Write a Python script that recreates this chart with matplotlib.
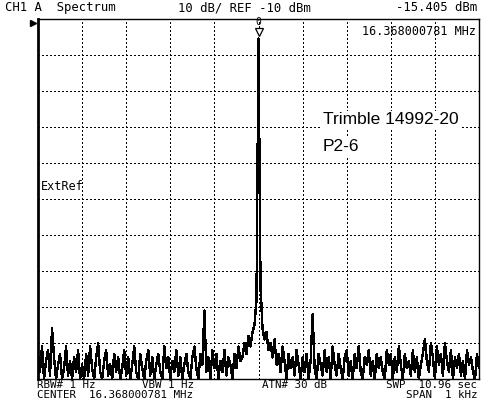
import matplotlib
matplotlib.use('Agg')
import matplotlib.pyplot as plt
import matplotlib.transforms as mtrans
import numpy as np

# Dados - traco do analisador (dBm), span 1 kHz em torno de 16.368000781 MHz
ref_level = -10
db_per_div = 10
span_hz = 1000
center_label = '16.368000781 MHz'
peak_dbm = -15.405

trace = [
    -103, -108, -101, -110, -105, -102, -109, -96, -104, -110, -106, -103, -110, -107, -101, -109, -105, -110, -104, -108, -102, -110,
    -106, -110, -103, -109, -101, -107, -110, -104, -100, -108, -110, -105, -102, -109, -106, -110, -103, -108, -104, -110, -107, -102,
    -109, -104, -110, -106, -101, -108, -110, -103, -107, -110, -105, -102, -109, -104, -110, -106, -103, -108, -110, -101, -107, -104,
    -110, -105, -108, -102, -109, -104, -110, -106, -103, -108, -110, -104, -101, -107, -110, -103, -106, -91, -108, -104, -110, -102,
    -107, -103, -110, -105, -108, -102, -109, -104, -106, -110, -103, -107, -101, -105, -104, -100, -103, -98, -101, -97, -95, -88,
    peak_dbm,
    -84, -96, -99, -97, -102, -100, -104, -99, -106, -103, -108, -101, -105, -110, -103, -107, -104, -109, -102, -106, -110, -104,
    -108, -103, -110, -105, -92, -107, -110, -103, -106, -109, -102, -108, -104, -110, -101, -106, -109, -103, -107, -110, -104, -102,
    -109, -105, -110, -103, -107, -101, -108, -110, -104, -106, -102, -109, -105, -110, -103, -107, -104, -108, -110, -102, -106, -103,
    -110, -104, -108, -101, -106, -110, -103, -107, -105, -109, -102, -108, -104, -110, -106, -103, -99, -105, -108, -100, -104, -110,
    -101, -106, -103, -109, -100, -105, -108, -102, -110, -104, -107, -103, -109, -105, -110, -102, -106, -104, -108, -110, -103, -107,
]
freq = np.linspace(-span_hz / 2, span_hz / 2, len(trace))

mono = 'DejaVu Sans Mono'

fig = plt.figure(figsize=(4.96, 4.11), dpi=100)
ax = fig.add_axes([38 / 496, 32 / 411, 441 / 496, 360 / 411])

bottom_level = ref_level - 10 * db_per_div
ax.plot(freq, np.clip(trace, bottom_level, ref_level), color='black', lw=1.0,
        antialiased=False, zorder=3)
ax.set_xlim(-span_hz / 2, span_hz / 2)
ax.set_ylim(bottom_level, ref_level)

# grade pontilhada 10x10
ax.set_xticks(np.linspace(-span_hz / 2, span_hz / 2, 11))
ax.set_yticks(np.arange(bottom_level, ref_level + 1, db_per_div))
ax.grid(True, color='black', linestyle=(0, (1, 2.5)), linewidth=0.75, antialiased=False)
ax.tick_params(length=0, labelbottom=False, labelleft=False)
for s in ['top', 'right', 'bottom']:
    ax.spines[s].set_linewidth(1.0)
ax.spines['left'].set_linewidth(2.0)

# marcador no pico
peak_f = freq[int(np.argmax(trace))]
tr_tri = mtrans.offset_copy(ax.transData, fig=fig, x=0, y=5, units='points')
ax.plot([peak_f], [peak_dbm], marker='v', ms=6, mfc='white', mec='black', mew=0.9,
        transform=tr_tri, clip_on=False, zorder=4)
tr_num = mtrans.offset_copy(ax.transData, fig=fig, x=0, y=12, units='points')
ax.text(peak_f, peak_dbm, '0', transform=tr_num, ha='center', va='center',
        fontsize=7, family=mono)

# indicador do nivel de referencia
ax.plot([-0.012], [0.99], marker='>', ms=5, color='black', transform=ax.transAxes, clip_on=False)

# textos dentro do grafico
ax.text(0.993, 0.956, center_label, transform=ax.transAxes, ha='right', va='baseline',
        fontsize=8.5, family=mono)
ax.text(0.007, 0.525, 'ExtRef', transform=ax.transAxes, ha='left', va='baseline',
        fontsize=8.5, family=mono)
box = dict(facecolor='white', edgecolor='none', pad=1)
ax.text(0.646, 0.708, 'Trimble 14992-20', transform=ax.transAxes, ha='left', va='baseline',
        fontsize=12.5, family='Liberation Sans', bbox=box, zorder=5)
ax.text(0.646, 0.633, 'P2-6', transform=ax.transAxes, ha='left', va='baseline',
        fontsize=12.5, family='Liberation Sans', bbox=box, zorder=5)

# cabecalho
fig.text(0.010, 0.973, 'CH1 A  Spectrum', ha='left', va='baseline', fontsize=8.8, family=mono)
fig.text(0.359, 0.973, '10 dB/ REF -10 dBm', ha='left', va='baseline', fontsize=8.8, family=mono)
fig.text(0.962, 0.973, '%.3f dBm' % peak_dbm, ha='right', va='baseline', fontsize=8.8, family=mono)

# rodape
fs = 7.8
r1, r2 = 0.057, 0.031
fig.text(0.075, r1, 'RBW# 1 Hz', ha='left', va='baseline', fontsize=fs, family=mono)
fig.text(0.286, r1, 'VBW 1 Hz', ha='left', va='baseline', fontsize=fs, family=mono)
fig.text(0.528, r1, 'ATN# 30 dB', ha='left', va='baseline', fontsize=fs, family=mono)
fig.text(0.962, r1, 'SWP  10.96 sec', ha='right', va='baseline', fontsize=fs, family=mono)
fig.text(0.075, r2, 'CENTER  ' + center_label, ha='left', va='baseline', fontsize=fs, family=mono)
fig.text(0.962, r2, 'SPAN  1 kHz', ha='right', va='baseline', fontsize=fs, family=mono)

fig.savefig('out.png', dpi=100)
